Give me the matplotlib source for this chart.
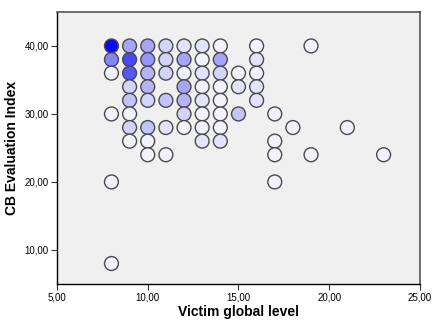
import matplotlib
matplotlib.use("Agg")
import matplotlib.pyplot as plt
from matplotlib.colors import LinearSegmentedColormap
from matplotlib.ticker import FuncFormatter

plt.rcParams['font.family'] = ['Liberation Sans', 'DejaVu Sans']

# binned scatter: victim level, CB index, number of cases in the bin
victim_level = [8, 8, 8, 8, 8, 8,
                9, 9, 9, 9, 9, 9, 9, 9,
                10, 10, 10, 10, 10, 10, 10, 10,
                11, 11, 11, 11, 11, 11,
                12, 12, 12, 12, 12, 12, 12,
                13, 13, 13, 13, 13, 13, 13, 13,
                14, 14, 14, 14, 14, 14, 14, 14,
                15, 15, 15,
                16, 16, 16, 16, 16,
                17, 17, 17, 17,
                18, 19, 19, 21, 23]
cb_index = [40, 38, 36, 30, 20, 8,
            40, 38, 36, 34, 32, 30, 28, 26,
            40, 38, 36, 34, 32, 28, 26, 24,
            40, 38, 36, 32, 28, 24,
            40, 38, 36, 34, 32, 30, 28,
            40, 38, 36, 34, 32, 30, 28, 26,
            40, 38, 36, 34, 32, 30, 28, 26,
            36, 34, 30,
            40, 38, 36, 34, 32,
            30, 26, 24, 20,
            28, 40, 24, 28, 24]
counts = [16, 8, 1, 1, 1, 1,
          6, 12, 11, 3, 4, 1, 3, 1,
          6, 7, 5, 5, 3, 4, 1, 1,
          3, 3, 3, 4, 2, 1,
          2, 6, 1, 6, 5, 3, 1,
          2, 1, 2, 1, 2, 1, 1, 2,
          1, 6, 3, 1, 1, 1, 1, 2,
          1, 2, 4,
          1, 2, 1, 2, 2,
          1, 1, 1, 1,
          1, 1, 1, 1, 1]

cmap = LinearSegmentedColormap.from_list("spss_blue", ["#f2f2fd", "#0a0af5"])

fig = plt.figure(figsize=(4.32, 3.23), dpi=100)
ax = fig.add_axes([0.132, 0.121, 0.840, 0.842])
ax.set_facecolor("#f0f0f0")

ax.scatter(victim_level, cb_index, c=counts, cmap=cmap, vmin=1, vmax=16,
           s=100, edgecolors="#4a4a4a", linewidths=1.0, zorder=3)

ax.set_xlim(5, 25)
ax.set_ylim(5, 45)
ax.set_xticks([5, 10, 15, 20, 25])
ax.set_yticks([10, 20, 30, 40])
comma = FuncFormatter(lambda v, p: f"{v:.2f}".replace(".", ","))
ax.xaxis.set_major_formatter(comma)
ax.yaxis.set_major_formatter(comma)
ax.tick_params(labelsize=7, length=4, width=0.8, color="#333333", pad=2)

for side in ["top", "right"]:
    ax.spines[side].set_color("#555555")
    ax.spines[side].set_linewidth(1.2)
for side in ["left", "bottom"]:
    ax.spines[side].set_color("black")
    ax.spines[side].set_linewidth(1.0)

ax.set_xlabel("Victim global level", fontsize=10, fontweight="bold", labelpad=2)
ax.set_ylabel("CB Evaluation Index", fontsize=10, fontweight="bold", labelpad=4)

plt.savefig("out.png", dpi=100)
